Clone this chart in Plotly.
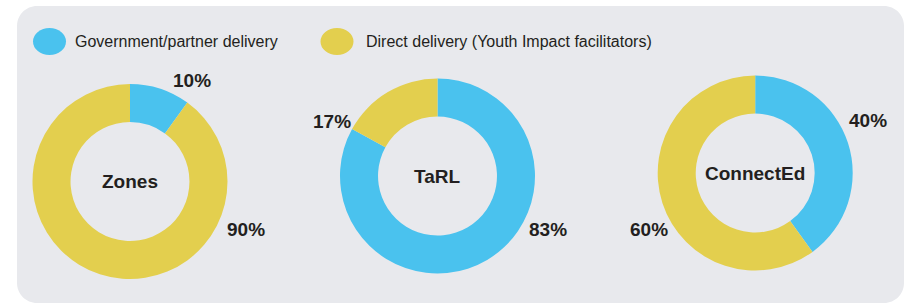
import plotly.graph_objects as go

# ---- data ----
programs = ["Zones", "TaRL", "ConnectEd"]
categories = ["Government/partner delivery", "Direct delivery (Youth Impact facilitators)"]
government = [10, 83, 40]
direct = [90, 17, 60]
colors = ["#4ac2ee", "#e3cf4e"]

W, H = 906, 304
TXT = "#231f20"
FONT = "Liberation Sans, Arial, Helvetica, sans-serif"

def px(x):
    return x / W

def py(y):
    return 1 - y / H

# pixel layout for each donut: center x, center y
centers = [(130, 181.5), (437.5, 176), (755.2, 173)]
R = 97.5
# label positions (pixel) for [government, direct]
label_pos = [
    [(192, 80.5), (245.5, 229)],
    [(548, 229), (332, 121.5)],
    [(867.5, 120), (648.5, 229)],
]

fig = go.Figure()
annotations = []
for i, name in enumerate(programs):
    cx, cy = centers[i]
    vals = [government[i], direct[i]]
    fig.add_trace(go.Pie(
        labels=categories,
        values=vals,
        hole=0.61,
        sort=False,
        direction="clockwise",
        rotation=0,
        marker=dict(colors=colors, line=dict(width=0)),
        textinfo="none",
        hoverinfo="label+percent",
        showlegend=False,
        domain=dict(x=[px(cx - R), px(cx + R)], y=[py(cy + R), py(cy - R)]),
        name=name,
    ))
    annotations.append(dict(
        x=px(cx - 0.5), y=py(cy), xref="paper", yref="paper", text=f"<b>{name}</b>",
        showarrow=False, xanchor="center", yanchor="middle",
        font=dict(family=FONT, size=19, color=TXT),
    ))
    for j, v in enumerate(vals):
        lx, ly = label_pos[i][j]
        annotations.append(dict(
            x=px(lx), y=py(ly), xref="paper", yref="paper", text=f"<b>{v}%</b>",
            showarrow=False, xanchor="center", yanchor="middle",
            font=dict(family=FONT, size=19, color=TXT),
        ))

# legend (custom ellipse markers)
legend_x = [(49.5, 73), (337, 364)]
legend_y = 41.5
shapes = []
for k, cat in enumerate(categories):
    mx, tx = legend_x[k]
    shapes.append(dict(
        type="circle", xref="paper", yref="paper",
        x0=px(mx - 16.5), x1=px(mx + 16.5), y0=py(legend_y + 13.5), y1=py(legend_y - 13.5),
        fillcolor=colors[k], line=dict(width=0), layer="above",
    ))
    annotations.append(dict(
        x=px(tx), y=py(legend_y), xref="paper", yref="paper", text=cat,
        showarrow=False, xanchor="left", yanchor="middle",
        font=dict(family=FONT, size=16, color=TXT),
    ))

# rounded background panel
x0, y0, x1, y1, r = 17, 6, 904, 303, 20
k = 0.5523 * r
pts = [
    f"M {px(x0 + r)},{py(y0)}",
    f"L {px(x1 - r)},{py(y0)}",
    f"C {px(x1 - r + k)},{py(y0)} {px(x1)},{py(y0 + r - k)} {px(x1)},{py(y0 + r)}",
    f"L {px(x1)},{py(y1 - r)}",
    f"C {px(x1)},{py(y1 - r + k)} {px(x1 - r + k)},{py(y1)} {px(x1 - r)},{py(y1)}",
    f"L {px(x0 + r)},{py(y1)}",
    f"C {px(x0 + r - k)},{py(y1)} {px(x0)},{py(y1 - r + k)} {px(x0)},{py(y1 - r)}",
    f"L {px(x0)},{py(y0 + r)}",
    f"C {px(x0)},{py(y0 + r - k)} {px(x0 + r - k)},{py(y0)} {px(x0 + r)},{py(y0)}",
    "Z",
]
shapes.insert(0, dict(
    type="path", xref="paper", yref="paper", path=" ".join(pts),
    fillcolor="#e8e9ed", line=dict(width=0), layer="below",
))

fig.update_layout(
    width=W, height=H, autosize=False,
    margin=dict(l=0, r=0, t=0, b=0),
    paper_bgcolor="white", plot_bgcolor="white",
    shapes=shapes, annotations=annotations,
    font=dict(family=FONT),
)

fig.write_html(
    "out.html",
    config={"displayModeBar": False},
    post_script="document.body.style.margin='0';document.body.style.overflow='hidden';",
)
